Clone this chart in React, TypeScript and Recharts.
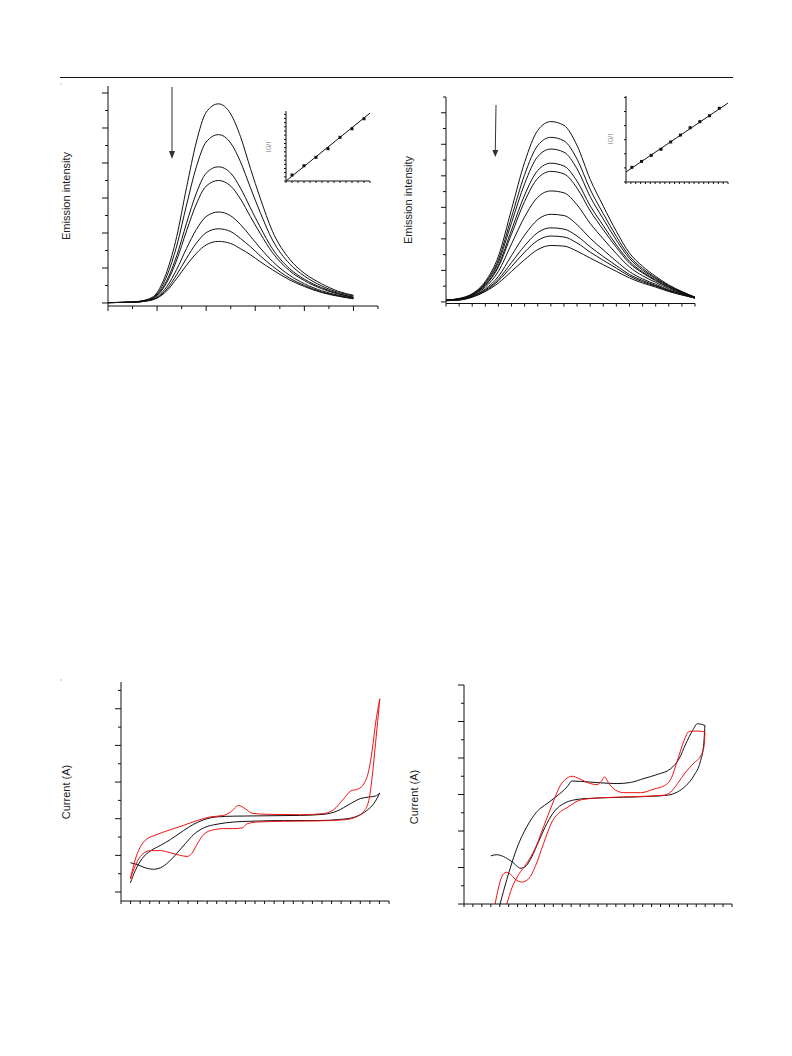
import { ComposedChart, Line, XAxis, YAxis } from "recharts";

// ---- top left: emission spectra (7 curves, quenching) ----
const aWave = [0, 0.5, 0.8, 1.0, 1.2, 1.4, 1.6, 1.8, 2.0, 2.25, 2.5, 2.7, 2.9, 3.1, 3.35, 3.7, 4.0, 4.35, 4.7, 5.0];
const aCurves = [
  [0.01, 0.03, 0.1, 0.3, 0.9, 1.9, 3.3, 4.6, 5.45, 5.69, 5.4, 4.75, 3.85, 3.0, 2.05, 1.25, 0.85, 0.55, 0.33, 0.22],
  [0.01, 0.03, 0.09, 0.26, 0.78, 1.63, 2.8, 3.89, 4.6, 4.81, 4.57, 4.03, 3.3, 2.59, 1.8, 1.12, 0.77, 0.49, 0.3, 0.2],
  [0.01, 0.03, 0.08, 0.23, 0.65, 1.35, 2.28, 3.14, 3.71, 3.89, 3.71, 3.28, 2.72, 2.17, 1.55, 0.98, 0.68, 0.44, 0.27, 0.17],
  [0.01, 0.02, 0.08, 0.21, 0.59, 1.23, 2.06, 2.83, 3.34, 3.5, 3.34, 2.97, 2.47, 1.99, 1.44, 0.92, 0.64, 0.41, 0.25, 0.16],
  [0.01, 0.02, 0.07, 0.17, 0.47, 0.96, 1.56, 2.1, 2.47, 2.6, 2.49, 2.24, 1.91, 1.57, 1.19, 0.79, 0.55, 0.35, 0.22, 0.14],
  [0.01, 0.02, 0.06, 0.15, 0.4, 0.81, 1.28, 1.71, 2.01, 2.12, 2.04, 1.84, 1.61, 1.35, 1.05, 0.71, 0.5, 0.32, 0.2, 0.13],
  [0.01, 0.02, 0.06, 0.14, 0.35, 0.7, 1.08, 1.42, 1.66, 1.76, 1.7, 1.55, 1.38, 1.18, 0.95, 0.66, 0.47, 0.3, 0.19, 0.12],
];

// ---- top right: emission spectra (10 curves) ----
const bWave = [0, 1, 2, 3, 4, 5, 6, 7, 8, 9, 10, 11, 12, 13, 14, 15, 16, 17, 18, 19];
const bCurves = [
  [0.06, 0.11, 0.26, 0.65, 1.45, 2.94, 4.43, 5.44, 5.72, 5.6, 4.96, 3.89, 3.04, 2.24, 1.55, 1.13, 0.81, 0.54, 0.33, 0.15],
  [0.06, 0.1, 0.25, 0.61, 1.34, 2.69, 4.04, 4.96, 5.22, 5.11, 4.53, 3.57, 2.8, 2.08, 1.45, 1.06, 0.77, 0.51, 0.32, 0.15],
  [0.06, 0.1, 0.24, 0.58, 1.26, 2.51, 3.75, 4.61, 4.85, 4.75, 4.22, 3.34, 2.63, 1.96, 1.38, 1.01, 0.74, 0.49, 0.31, 0.14],
  [0.05, 0.09, 0.22, 0.54, 1.16, 2.28, 3.39, 4.17, 4.4, 4.31, 3.83, 3.05, 2.42, 1.81, 1.29, 0.95, 0.7, 0.47, 0.29, 0.14],
  [0.05, 0.09, 0.22, 0.52, 1.11, 2.15, 3.19, 3.92, 4.14, 4.06, 3.61, 2.89, 2.29, 1.73, 1.23, 0.92, 0.67, 0.46, 0.29, 0.14],
  [0.05, 0.08, 0.2, 0.47, 0.97, 1.84, 2.7, 3.32, 3.52, 3.46, 3.08, 2.49, 2.0, 1.53, 1.11, 0.83, 0.62, 0.42, 0.27, 0.13],
  [0.05, 0.07, 0.18, 0.41, 0.81, 1.47, 2.12, 2.61, 2.78, 2.74, 2.45, 2.02, 1.65, 1.29, 0.96, 0.73, 0.56, 0.38, 0.25, 0.13],
  [0.04, 0.07, 0.17, 0.38, 0.72, 1.25, 1.78, 2.2, 2.35, 2.31, 2.09, 1.75, 1.44, 1.15, 0.87, 0.68, 0.52, 0.36, 0.24, 0.12],
  [0.04, 0.06, 0.16, 0.35, 0.67, 1.12, 1.58, 1.95, 2.09, 2.06, 1.87, 1.58, 1.32, 1.07, 0.82, 0.64, 0.5, 0.35, 0.23, 0.12],
  [0.04, 0.06, 0.15, 0.33, 0.6, 0.97, 1.34, 1.66, 1.79, 1.77, 1.61, 1.39, 1.18, 0.97, 0.76, 0.6, 0.47, 0.33, 0.22, 0.12],
];

// ---- insets: Stern-Volmer plots ----
const insetAConc = [1, 3, 5, 7, 9, 11, 13];
const insetARatio = [1.44, 3.67, 5.68, 7.75, 10.48, 12.54, 14.94];
const insetAFitX = [0, 14];
const insetAFitY = [0, 16.3];
const insetBConc = [0.6, 1.6, 2.6, 3.6, 4.6, 5.6, 6.6, 7.6, 8.6, 9.6];
const insetBRatio = [1.04, 1.46, 1.89, 2.32, 2.84, 3.33, 3.85, 4.28, 4.7, 5.23];
const insetBFitX = [0, 10.5];
const insetBFitY = [0.71, 5.6];

// ---- bottom left: cyclic voltammograms ----
const cBlackOutX = [0.98, 1.67, 2.54, 3.41, 4.11, 4.98, 5.85, 6.72, 7.6, 8.64, 10.03, 11.78, 13.52, 17.0, 20.49, 23.28, 24.67, 25.71, 26.41, 27.04];
const cBlackOutY = [0.8, 0.75, 0.66, 0.62, 0.66, 0.82, 1.06, 1.32, 1.57, 1.75, 1.85, 1.91, 1.93, 1.95, 1.95, 1.99, 2.07, 2.23, 2.41, 2.7];
const cBlackBackX = [0.98, 1.5, 2.2, 3.07, 4.11, 5.16, 6.55, 7.6, 8.64, 10.03, 11.78, 15.26, 18.75, 21.18, 22.58, 23.97, 25.02, 25.89, 26.59, 27.04];
const cBlackBackY = [0.25, 0.59, 0.91, 1.12, 1.27, 1.43, 1.68, 1.85, 1.97, 2.05, 2.07, 2.08, 2.09, 2.12, 2.21, 2.41, 2.55, 2.59, 2.62, 2.7];
const cRedUpX = [0.98, 1.32, 1.85, 2.54, 3.76, 5.16, 6.55, 7.94, 9.34, 10.73, 11.43, 12.3, 13.0, 13.69, 15.26, 18.75, 21.18, 22.23, 23.28, 23.97, 24.84, 25.37, 25.89, 26.24, 26.59, 27.04];
const cRedUpY = [0.36, 0.73, 1.14, 1.41, 1.57, 1.7, 1.82, 1.95, 2.05, 2.09, 2.18, 2.36, 2.27, 2.15, 2.12, 2.11, 2.14, 2.25, 2.55, 2.75, 2.82, 2.95, 3.32, 3.86, 4.59, 5.27];
const cRedLowX = [0.98, 1.5, 2.2, 3.07, 4.11, 5.16, 6.2, 6.9, 7.42, 7.94, 8.64, 9.69, 10.73, 11.78, 12.65, 13.17, 14.22, 17.0, 20.49, 23.28, 24.67, 25.37, 25.89, 26.24, 26.59, 27.04];
const cRedLowY = [0.36, 0.73, 1.02, 1.13, 1.13, 1.07, 1.0, 0.97, 1.06, 1.3, 1.57, 1.7, 1.73, 1.73, 1.75, 1.86, 1.91, 1.93, 1.94, 1.97, 2.06, 2.2, 2.5, 3.14, 4.05, 5.27];

// ---- bottom right: cyclic voltammograms ----
const dBlackUpX = [4.04, 4.42, 5.17, 5.92, 7.04, 8.16, 9.29, 10.41, 11.54, 12.1, 13.03, 15.28, 17.15, 18.65, 20.15, 21.65, 23.15, 24.08, 24.83, 25.58, 26.14, 26.97];
const dBlackUpY = [0, 0.35, 0.98, 1.53, 2.12, 2.53, 2.75, 2.96, 3.21, 3.37, 3.36, 3.32, 3.3, 3.33, 3.44, 3.55, 3.71, 3.98, 4.39, 4.75, 4.94, 4.89];
const dBlackLowX = [3.0, 3.67, 4.42, 5.36, 6.37, 6.97, 7.6, 8.35, 9.29, 10.22, 11.16, 12.28, 13.78, 17.15, 20.9, 22.77, 23.9, 24.83, 25.77, 26.44, 26.82, 26.97];
const dBlackLowY = [1.32, 1.35, 1.3, 1.16, 0.98, 1.05, 1.3, 1.71, 2.21, 2.57, 2.75, 2.85, 2.89, 2.92, 2.95, 2.98, 3.07, 3.24, 3.53, 3.89, 4.35, 4.89];
const dRedLowX = [3.48, 3.86, 4.23, 4.72, 5.17, 5.73, 6.48, 7.23, 7.98, 8.91, 9.85, 10.79, 11.54, 13.03, 15.28, 19.03, 22.4, 23.15, 23.9, 24.83, 25.77, 26.52, 26.89, 26.97];
const dRedLowY = [0, 0.44, 0.75, 0.87, 0.82, 0.68, 0.6, 0.69, 1.03, 1.66, 2.25, 2.53, 2.64, 2.85, 2.91, 2.94, 2.98, 3.07, 3.3, 3.62, 3.87, 4.07, 4.35, 4.71];
const dRedUpX = [4.79, 5.36, 6.1, 7.04, 7.98, 8.91, 9.85, 10.79, 11.54, 12.1, 12.85, 13.78, 14.91, 15.36, 15.73, 16.22, 16.97, 17.9, 19.78, 21.27, 22.4, 23.15, 23.9, 24.64, 25.21, 26.14, 26.97];
const dRedUpY = [0, 0.44, 0.8, 1.12, 1.53, 2.12, 2.71, 3.25, 3.45, 3.5, 3.44, 3.33, 3.27, 3.36, 3.48, 3.3, 3.12, 3.05, 3.05, 3.15, 3.24, 3.42, 3.94, 4.48, 4.73, 4.74, 4.71];

const PAD = 10;
const INK = "#111";
const RED = "#f01010";

type Rect = { x0: number; x1: number; y0: number; y1: number };

function steps(from: number, to: number, step: number) {
  const out: number[] = [];
  for (let v = from; v <= to + 1e-9; v += step) out.push(Math.round(v * 100) / 100);
  return out;
}

function zip(xs: number[], ys: number[]) {
  return xs.map((x, i) => ({ x, y: ys[i] }));
}

const isInt = (v: number) => Math.abs(v - Math.round(v)) < 1e-6;

function yMark(major: number, minor: number) {
  return (p: any) => {
    const len = isInt(p.payload.value) ? major : minor;
    return <line x1={p.x} y1={p.y} x2={p.x - len} y2={p.y} stroke={INK} strokeWidth={1} />;
  };
}

function xMark(major: number, minor: number) {
  return (p: any) => {
    const len = isInt(p.payload.value) ? major : minor;
    return <line x1={p.x} y1={p.y} x2={p.x} y2={p.y + len} stroke={INK} strokeWidth={1} />;
  };
}

// plot area placed at page pixels rect; axes take 1px so margins are trimmed by 1
function Panel(props: {
  rect: Rect;
  xDomain: [number, number];
  yDomain: [number, number];
  xTicks: number[];
  yTicks: number[];
  xTick: any;
  yTick: any;
  data?: any[];
  children: any;
}) {
  const { rect } = props;
  return (
    <div style={{ position: "absolute", left: rect.x0 - PAD, top: rect.y0 - PAD }}>
      <ComposedChart
        width={rect.x1 - rect.x0 + 2 * PAD}
        height={rect.y1 - rect.y0 + 2 * PAD}
        margin={{ top: PAD, right: PAD, bottom: PAD - 1, left: PAD - 1 }}
        data={props.data}
      >
        <XAxis
          type="number"
          dataKey="x"
          domain={props.xDomain}
          ticks={props.xTicks}
          interval={0}
          allowDataOverflow
          height={1}
          tickSize={0}
          tickMargin={0}
          tickLine={false}
          tick={props.xTick}
          axisLine={{ stroke: INK }}
        />
        <YAxis
          type="number"
          domain={props.yDomain}
          ticks={props.yTicks}
          interval={0}
          allowDataOverflow
          width={1}
          tickSize={0}
          tickMargin={0}
          tickLine={false}
          tick={props.yTick}
          axisLine={{ stroke: INK }}
        />
        {props.children}
      </ComposedChart>
    </div>
  );
}

function VLabel({ text, cx, cy, size, color }: { text: string; cx: number; cy: number; size: number; color: string }) {
  return (
    <div
      style={{
        position: "absolute",
        left: cx - 80,
        top: cy - 8,
        width: 160,
        height: 16,
        lineHeight: "16px",
        textAlign: "center",
        whiteSpace: "nowrap",
        fontFamily: "'Liberation Sans', Arial, sans-serif",
        fontSize: size,
        color,
        transform: "rotate(-90deg)",
      }}
    >
      {text}
    </div>
  );
}

const squareDot = (p: any) => (
  <rect key={`d${p.index}`} x={p.cx - 1.5} y={p.cy - 1.5} width={3} height={3} fill={INK} />
);

function Inset({ rect, xMax, yMax, yTicks, xTicks, conc, ratio, fitX, fitY }: any) {
  return (
    <Panel
      rect={rect}
      xDomain={[0, xMax]}
      yDomain={[0, yMax]}
      xTicks={xTicks}
      yTicks={yTicks}
      xTick={xMark(2, 2)}
      yTick={yMark(2, 2)}
    >
      <Line data={zip(fitX, fitY)} dataKey="y" type="linear" stroke={INK} strokeWidth={1} dot={false} isAnimationActive={false} />
      <Line data={zip(conc, ratio)} dataKey="y" type="linear" stroke="transparent" dot={squareDot} isAnimationActive={false} />
    </Panel>
  );
}

export default function App() {
  const aRows = aWave.map((x, i) => {
    const row: any = { x };
    aCurves.forEach((c, k) => (row[`s${k}`] = c[i]));
    return row;
  });
  const bRows = bWave.map((x, i) => {
    const row: any = { x };
    bCurves.forEach((c, k) => (row[`s${k}`] = c[i]));
    return row;
  });

  const cv = (xs: number[], ys: number[], color: string, key: string) => (
    <Line
      key={key}
      data={zip(xs, ys)}
      dataKey="y"
      type="monotone"
      stroke={color}
      strokeWidth={1}
      dot={false}
      isAnimationActive={false}
    />
  );

  return (
    <div style={{ position: "absolute", left: 0, top: 0, width: 792, height: 1056, background: "#fff" }}>
      <svg width={792} height={1056} style={{ position: "absolute", left: 0, top: 0 }}>
        <line x1={60} y1={77.5} x2={733} y2={77.5} stroke={INK} strokeWidth={1} />
        <rect x={60.5} y={83.5} width={1} height={1} fill="#888" />
        <rect x={60.5} y={679.5} width={1} height={1} fill="#888" />
        <line x1={172} y1={87} x2={172} y2={152} stroke="#333" strokeWidth={1} />
        <polygon points="169,151 175,151 172,159" fill="#333" />
        <line x1={496} y1={105} x2={495.3} y2={150} stroke="#333" strokeWidth={1} />
        <polygon points="492.3,150 498.3,150 495.3,157" fill="#333" />
      </svg>

      <Panel
        rect={{ x0: 108, x1: 378, y0: 86, y1: 306 }}
        xDomain={[0, 5.5]}
        yDomain={[-0.086, 6.2]}
        xTicks={steps(0, 5.5, 0.5)}
        yTicks={steps(0, 6, 0.5)}
        xTick={xMark(5, 3)}
        yTick={yMark(6, 3)}
        data={aRows}
      >
        {aCurves.map((_, k) => (
          <Line key={k} dataKey={`s${k}`} type="monotone" stroke={INK} strokeWidth={1} dot={false} isAnimationActive={false} />
        ))}
      </Panel>
      <Inset
        rect={{ x0: 286, x1: 370, y0: 111, y1: 181 }}
        xMax={14}
        yMax={16.8}
        xTicks={steps(0, 14, 1)}
        yTicks={steps(0, 16, 1)}
        conc={insetAConc}
        ratio={insetARatio}
        fitX={insetAFitX}
        fitY={insetAFitY}
      />

      <Panel
        rect={{ x0: 446, x1: 695, y0: 97, y1: 303.5 }}
        xDomain={[0, 19]}
        yDomain={[-0.05, 6.5]}
        xTicks={steps(0, 19, 1)}
        yTicks={steps(0, 6.5, 0.5)}
        xTick={xMark(3, 3)}
        yTick={yMark(5, 3)}
        data={bRows}
      >
        {bCurves.map((_, k) => (
          <Line key={k} dataKey={`s${k}`} type="monotone" stroke={INK} strokeWidth={1} dot={false} isAnimationActive={false} />
        ))}
      </Panel>
      <Inset
        rect={{ x0: 626, x1: 728, y0: 96, y1: 182 }}
        xMax={10.5}
        yMax={6.1}
        xTicks={steps(0, 10.5, 0.5)}
        yTicks={steps(0, 6, 1)}
        conc={insetBConc}
        ratio={insetBRatio}
        fitX={insetBFitX}
        fitY={insetBFitY}
      />

      <Panel
        rect={{ x0: 121, x1: 389, y0: 682, y1: 901 }}
        xDomain={[0, 28]}
        yDomain={[-0.245, 5.73]}
        xTicks={steps(0, 28, 1)}
        yTicks={steps(0, 5.5, 0.5)}
        xTick={xMark(3, 3)}
        yTick={yMark(6, 3)}
      >
        {cv(cBlackOutX, cBlackOutY, INK, "cb1")}
        {cv(cBlackBackX, cBlackBackY, INK, "cb2")}
        {cv(cRedUpX, cRedUpY, RED, "cr1")}
        {cv(cRedLowX, cRedLowY, RED, "cr2")}
      </Panel>

      <Panel
        rect={{ x0: 464, x1: 732, y0: 685, y1: 904 }}
        xDomain={[0, 30]}
        yDomain={[0, 6]}
        xTicks={steps(0, 30, 1)}
        yTicks={steps(0, 6, 0.5)}
        xTick={xMark(3, 3)}
        yTick={yMark(6, 3)}
      >
        {cv(dBlackUpX, dBlackUpY, INK, "db1")}
        {cv(dBlackLowX, dBlackLowY, INK, "db2")}
        {cv(dRedLowX, dRedLowY, RED, "dr1")}
        {cv(dRedUpX, dRedUpY, RED, "dr2")}
      </Panel>

      <VLabel text="Emission intensity" cx={66} cy={196} size={11} color="#222" />
      <VLabel text="Emission intensity" cx={408} cy={200} size={11} color="#222" />
      <VLabel text="Current (A)" cx={66} cy={792} size={11} color="#222" />
      <VLabel text="Current (A)" cx={414} cy={797} size={11} color="#222" />
      <VLabel text="I0/I" cx={269} cy={147} size={8} color="#999" />
      <VLabel text="I0/I" cx={611} cy={139} size={8} color="#999" />
    </div>
  );
}
